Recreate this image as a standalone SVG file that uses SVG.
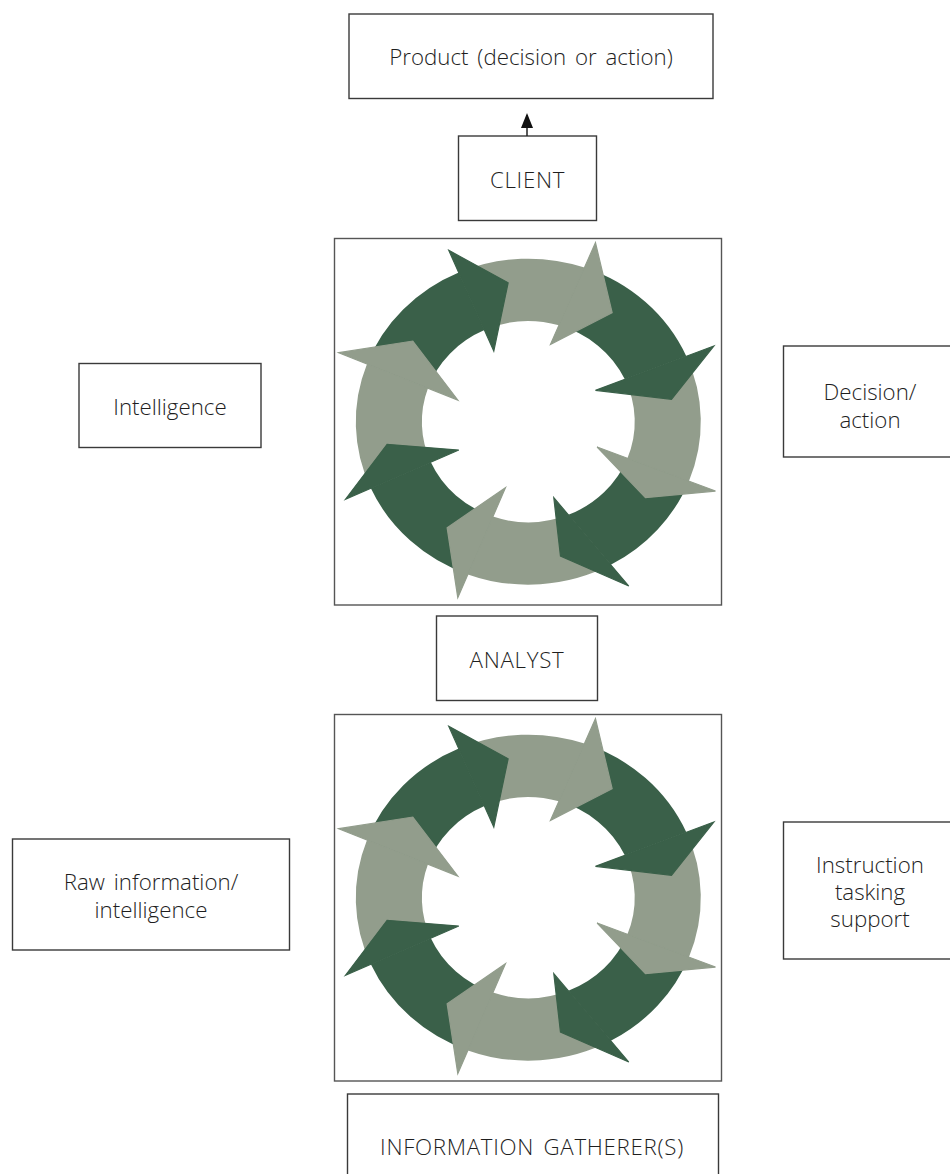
<svg xmlns="http://www.w3.org/2000/svg" xmlns:xlink="http://www.w3.org/1999/xlink" width="950" height="1174" viewBox="0 0 950 1174">
<style>
.box{fill:#fff;stroke:#3a3a3a;stroke-width:1.4}
.frame{fill:none;stroke:#555;stroke-width:1.4}
.t{font-family:"Open Sans","Noto Sans","DejaVu Sans",sans-serif;font-weight:350;font-size:22.3px;fill:#1e1e1e;text-anchor:middle;word-spacing:3px}
.caps{letter-spacing:0.7px}
.dk{fill:#3a6049}
.lt{fill:#929d8c}
polygon.dk{stroke:#3a6049}
polygon.lt{stroke:#929d8c}
polygon{stroke-width:1.2;stroke-linejoin:miter;vector-effect:non-scaling-stroke}
.conn{stroke:#222;stroke-width:1.5;fill:none}
</style>
<defs>
<marker id="ah" viewBox="0 0 15 12" refX="13" refY="6" markerWidth="15" markerHeight="12" markerUnits="userSpaceOnUse" orient="auto">
<path d="M0,0 L15,6 L0,12 Z" fill="#111"/>
</marker>
<g id="cycle">
<path class="lt" d="M -0.5648,0.2484 L -0.9127,0.4087 A 1 1 0 0 1 -0.9351,-0.3545 L -0.5817,-0.2057 A 0.617 0.617 0 0 0 -0.5648,0.2484 Z"/>
<path class="dk" d="M -0.5817,-0.2057 L -0.9351,-0.3545 A 1 1 0 0 1 -0.4034,-0.9150 L -0.2543,-0.5621 A 0.617 0.617 0 0 0 -0.5817,-0.2057 Z"/>
<path class="lt" d="M -0.2543,-0.5621 L -0.4034,-0.9150 A 1 1 0 0 1 0.3256,-0.9456 L 0.1773,-0.5911 A 0.617 0.617 0 0 0 -0.2543,-0.5621 Z"/>
<path class="dk" d="M 0.1773,-0.5911 L 0.3256,-0.9456 A 1 1 0 0 1 0.9160,-0.4010 L 0.5597,-0.2597 A 0.617 0.617 0 0 0 0.1773,-0.5911 Z"/>
<path class="lt" d="M 0.5597,-0.2597 L 0.9160,-0.4010 A 1 1 0 0 1 0.9311,0.3648 L 0.5747,0.2245 A 0.617 0.617 0 0 0 0.5597,-0.2597 Z"/>
<path class="dk" d="M 0.5747,0.2245 L 0.9311,0.3648 A 1 1 0 0 1 0.4782,0.8781 L 0.2322,0.5715 A 0.617 0.617 0 0 0 0.5747,0.2245 Z"/>
<path class="lt" d="M 0.2322,0.5715 L 0.4782,0.8781 A 1 1 0 0 1 -0.3501,0.9367 L -0.2049,0.5820 A 0.617 0.617 0 0 0 0.2322,0.5715 Z"/>
<path class="dk" d="M -0.2049,0.5820 L -0.3501,0.9367 A 1 1 0 0 1 -0.9127,0.4087 L -0.5648,0.2484 A 0.617 0.617 0 0 0 -0.2049,0.5820 Z"/>
<polygon class="lt" points="-1.0986,-0.4233 -0.6696,-0.4949 -0.4087,-0.1329"/>
<polygon class="dk" points="-0.4609,-1.0511 -0.1169,-0.8528 -0.2000,-0.4335"/>
<polygon class="lt" points="0.3894,-1.0982 0.4860,-0.6687 0.1285,-0.4744"/>
<polygon class="dk" points="1.0754,-0.4642 0.8300,-0.1370 0.3894,-0.1922"/>
<polygon class="lt" points="1.0850,0.4254 0.6792,0.4663 0.3990,0.1554"/>
<polygon class="dk" points="0.5826,1.0082 0.1865,0.8241 0.1478,0.4663"/>
<polygon class="lt" points="-0.4087,1.0798 -0.4705,0.6503 -0.1324,0.4049"/>
<polygon class="dk" points="-1.0599,0.4765 -0.8184,0.1391 -0.4029,0.1738"/>
</g>
</defs>
<rect width="950" height="1174" fill="#fff"/>

<g id="product">
<rect class="box" x="349" y="14" width="364" height="84.5"/>
<text class="t" x="531" y="65">Product (decision or action)</text>
</g>

<g id="client">
<rect class="box" x="458.5" y="136" width="138" height="84.5"/>
<text class="t caps" x="527.5" y="188">CLIENT</text>
</g>

<g id="cycle-top">
<rect class="frame" x="334.5" y="238.5" width="387" height="366.5"/>
<use xlink:href="#cycle" transform="translate(528.3,421.7) scale(172.5,163)"/>
</g>

<g id="intelligence">
<rect class="box" x="79" y="363.5" width="182" height="84"/>
<text class="t" x="170" y="415">Intelligence</text>
</g>

<g id="decision">
<rect class="box" x="783.5" y="346" width="175" height="111"/>
<text class="t" x="870" y="400">Decision/</text>
<text class="t" x="870" y="427.7">action</text>
</g>

<g id="analyst">
<rect class="box" x="436.5" y="616" width="161" height="84.5"/>
<text class="t caps" x="517" y="668">ANALYST</text>
</g>

<g id="cycle-bottom">
<rect class="frame" x="334.5" y="714.5" width="387" height="366.5"/>
<use xlink:href="#cycle" transform="translate(528.3,897.7) scale(172.5,163)"/>
</g>

<g id="raw">
<rect class="box" x="12.5" y="839" width="277" height="111"/>
<text class="t" x="151" y="890">Raw information/</text>
<text class="t" x="151" y="917.5">intelligence</text>
</g>

<g id="instruction">
<rect class="box" x="783.5" y="822" width="175" height="137"/>
<text class="t" x="870" y="873">Instruction</text>
<text class="t" x="870" y="900">tasking</text>
<text class="t" x="870" y="926.7">support</text>
</g>

<g id="gatherers">
<rect class="box" x="347.5" y="1094" width="371" height="100"/>
<text class="t caps" x="532" y="1155">INFORMATION GATHERER(S)</text>
</g>

<g id="connectors">
<line class="conn" x1="527" y1="136" x2="527" y2="115" marker-end="url(#ah)"/>
</g>
</svg>
